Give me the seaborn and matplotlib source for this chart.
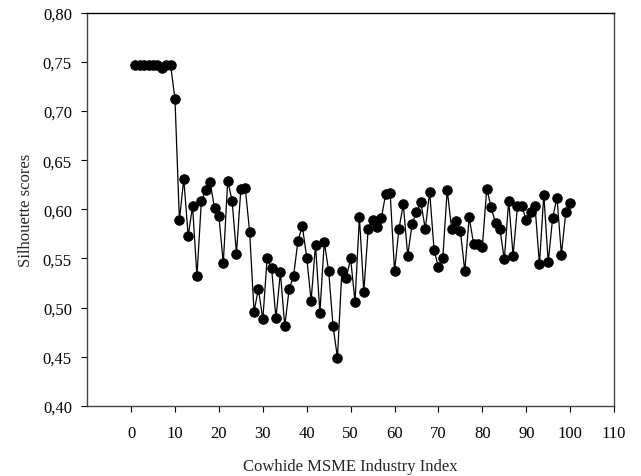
import matplotlib
matplotlib.use("Agg")
import matplotlib.pyplot as plt
import seaborn as sns
import pandas as pd
from matplotlib.ticker import FuncFormatter

index = list(range(1, 101))
scores = [
    0.747, 0.747, 0.747, 0.747, 0.747, 0.747, 0.744, 0.747, 0.747, 0.712,
    0.589, 0.631, 0.573, 0.603, 0.532, 0.608, 0.620, 0.628, 0.601, 0.593,
    0.545, 0.629, 0.609, 0.555, 0.621, 0.622, 0.577, 0.496, 0.519, 0.488,
    0.551, 0.540, 0.489, 0.536, 0.481, 0.519, 0.532, 0.568, 0.583, 0.551,
    0.507, 0.564, 0.495, 0.567, 0.537, 0.481, 0.449, 0.537, 0.530, 0.550,
    0.506, 0.592, 0.516, 0.580, 0.589, 0.582, 0.591, 0.616, 0.617, 0.537,
    0.580, 0.605, 0.553, 0.585, 0.597, 0.607, 0.580, 0.618, 0.559, 0.541,
    0.551, 0.620, 0.580, 0.588, 0.578, 0.537, 0.592, 0.565, 0.565, 0.562,
    0.621, 0.602, 0.586, 0.580, 0.549, 0.609, 0.553, 0.603, 0.603, 0.589,
    0.597, 0.603, 0.544, 0.615, 0.546, 0.591, 0.612, 0.554, 0.597, 0.606,
]
x_ticks = list(range(0, 111, 10))
y_ticks = [0.40, 0.45, 0.50, 0.55, 0.60, 0.65, 0.70, 0.75, 0.80]

df = pd.DataFrame({"idx": index, "score": scores})

sns.set_style("white")
plt.rcParams["font.family"] = ["Liberation Serif", "DejaVu Serif"]
plt.rcParams["font.size"] = 12

fig = plt.figure(figsize=(6.41, 4.77), dpi=100)
ax = fig.add_axes([0.136, 0.147, 0.822, 0.824])

sns.lineplot(data=df, x="idx", y="score", ax=ax, color="black", linewidth=0.9,
             marker="o", markersize=6.8, markeredgecolor="black",
             markerfacecolor="black")

ax.set_xlim(-10, 110)
ax.set_ylim(0.40, 0.80)
ax.set_xticks(x_ticks)
ax.set_yticks(y_ticks)
ax.yaxis.set_major_formatter(FuncFormatter(lambda v, p: f"{v:.2f}".replace(".", ",")))
ax.tick_params(axis="both", direction="out", length=4, width=0.8, colors="black",
               labelsize=12, left=True, bottom=True)
ax.tick_params(axis="x", pad=10)
ax.tick_params(axis="y", pad=7)
for name, s in ax.spines.items():
    s.set_linewidth(1.0)
    s.set_color("#444444")
ax.spines["top"].set_color("black")

ax.set_xlabel("Cowhide MSME Industry Index", fontsize=12, labelpad=12)
ax.set_ylabel("Silhouette scores", fontsize=12, labelpad=6)

fig.savefig("out.png", dpi=100)
